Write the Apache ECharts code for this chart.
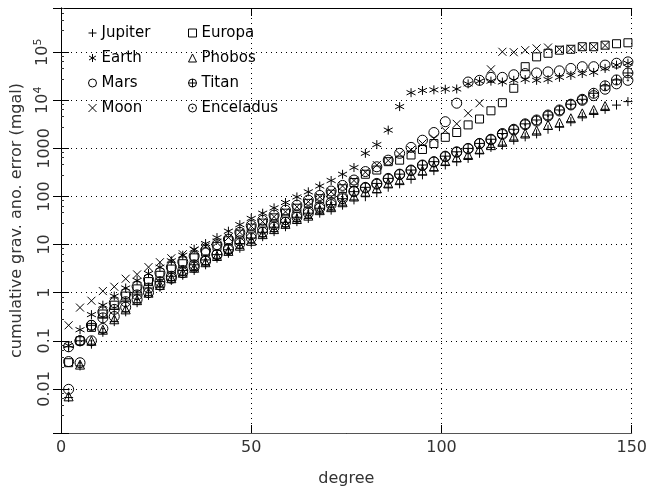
<!DOCTYPE html>
<html>
<head>
<meta charset="utf-8">
<script src="https://cdn.jsdelivr.net/npm/echarts@6/dist/echarts.min.js"></script>
<style>
  html, body { margin: 0; padding: 0; background: #fff; }
  #chart { width: 650px; height: 493px; }
</style>
</head>
<body>
<div id="chart"></div>
<script>
// degree of each point
const degrees = [2, 5, 8, 11, 14, 17, 20, 23, 26, 29, 32, 35, 38, 41, 44, 47, 50, 53, 56, 59,
  62, 65, 68, 71, 74, 77, 80, 83, 86, 89, 92, 95, 98, 101, 104, 107, 110, 113, 116, 119,
  122, 125, 128, 131, 134, 137, 140, 143, 146, 149]

// cumulative grav. anomaly error (mgal) per body
const jupiter = [0.0066, 0.03, 0.085, 0.15, 0.25, 0.4, 0.62, 0.88, 1.3, 1.8,
  2.3, 2.9, 3.8, 5.2, 6.6, 8.4, 10.7, 14.6, 18.6, 23.5,
  30, 35, 45, 52, 66, 85, 99, 120, 156, 183,
  229, 282, 345, 452, 530, 620, 790, 1050, 1170, 1490,
  1740, 2000, 2500, 2830, 3590, 4560, 5350, 6500, 7950, 9400]
const earth = [0.08, 0.17, 0.35, 0.55, 0.85, 1.25, 1.8, 2.5, 3.4, 4.6,
  6.0, 8.0, 10.5, 14, 19, 26, 35, 45, 58, 75,
  98, 125, 165, 215, 290, 400, 790, 1200, 2400, 7400,
  14400, 16000, 16500, 17000, 17200, 22000, 25000, 25000, 24000, 26000,
  27000, 26000, 27000, 30000, 33000, 36000, 38000, 46000, 54000, 59000]
const mars = [0.037, 0.1, 0.21, 0.4, 0.62, 0.95, 1.35, 1.9, 2.6, 3.4,
  4.4, 5.8, 7.6, 10, 13, 18, 25, 32, 41, 52,
  66, 84, 105, 130, 170, 220, 330, 415, 570, 790,
  1050, 1480, 2140, 3590, 8700, 24000, 26000, 30000, 30000, 34000,
  36000, 37000, 39000, 41000, 46000, 50000, 50000, 54000, 59000, 63000]
const moon = [0.21, 0.49, 0.68, 1.08, 1.33, 1.95, 2.4, 3.4, 4.3, 5.2,
  6.3, 7.5, 9, 11, 14, 18, 24, 30, 38, 48,
  61, 78, 98, 125, 165, 215, 320, 450, 560, 760,
  930, 1260, 1610, 2340, 3240, 5380, 8700, 44000, 102000, 100000,
  110000, 120000, 125000, 115000, 118000, 128000, 130000, 138000, null, null]
const europa = [0.035, 0.1, 0.19, 0.36, 0.55, 0.85, 1.2, 1.7, 2.3, 3.1,
  4.0, 5.3, 7.0, 9.2, 12, 16.5, 22, 28, 36, 45,
  57, 72, 90, 112, 145, 195, 290, 355, 530, 570,
  730, 950, 1260, 1700, 2140, 3080, 4080, 6050, 8900, 17800,
  50000, 80000, 95000, 110000, 115000, 130000, 130000, 140000, 150000, 157000]
const phobos = [0.007, 0.032, 0.1, 0.17, 0.28, 0.45, 0.7, 1.0, 1.45, 2.0,
  2.6, 3.3, 4.3, 5.8, 7.4, 9.5, 12, 16.5, 21, 27,
  34, 40, 52, 60, 76, 100, 126, 148, 187, 219,
  282, 345, 417, 545, 650, 730, 955, 1170, 1370, 1740,
  2040, 2340, 3070, 3420, 4230, 5350, 6300, 7600, null, null]
const titan = [0.075, 0.1, 0.21, 0.3, 0.45, 0.65, 0.9, 1.25, 1.7, 2.2,
  2.9, 3.8, 4.8, 6.2, 7.8, 10.5, 13.7, 18, 23, 29,
  37, 45, 57, 68, 90, 126, 155, 187, 238, 292,
  355, 452, 530, 690, 850, 1000, 1270, 1550, 2040, 2500,
  3240, 3900, 4950, 6300, 8300, 10500, 14000, 20000, 26500, 37000]
const enceladus = [0.0098, 0.035, 0.1, 0.18, 0.32, 0.5, 0.72, 1.0, 1.45, 2.0,
  2.6, 3.4, 4.5, 6.2, 8.3, 12, 16, 21, 26, 33,
  41, 50, 62, 75, 98, 130, 150, 180, 230, 285,
  345, 440, 520, 670, 830, 980, 1250, 1500, 1950, 2400,
  3100, 3700, 4700, 6000, 8000, 10000, 12500, 17000, 22000, 26000]

// tick labels
const xTicks = [0, 50, 100, 150]
const yTickValues = [0.01, 0.1, 1, 10, 100, 1000, 10000, 100000]
const yTickLabels = ['0.01', '0.1', '1', '10', '100', '1000', '10{sup|4}', '10{sup|5}']

// marker shapes
const SYM = {
  plus: 'path://M5 0L5 10M0 5L10 5',
  star: 'path://M5 0L5 10M0.67 2.5L9.33 7.5M9.33 2.5L0.67 7.5',
  cross: 'path://M0 0L10 10M10 0L0 10',
  oplus: 'path://M0 5A5 5 0 1 0 10 5A5 5 0 1 0 0 5ZM5 0L5 10M0 5L10 5',
  odot: 'path://M0 5A5 5 0 1 0 10 5A5 5 0 1 0 0 5ZM5.7 5A0.7 0.7 0 1 0 4.3 5A0.7 0.7 0 1 0 5.7 5Z'
}

const FONT = 'DejaVu Sans'

const makeSeries = (name, values, symbol, size) => {
  let pts = []
  for (let i = 0; i < degrees.length; i++) {
    if (values[i] != null) pts.push([degrees[i], values[i]])
  }
  return {
    name: name,
    type: 'scatter',
    data: pts,
    symbol: symbol,
    symbolSize: size,
    itemStyle: { color: 'rgba(0,0,0,0)', borderColor: '#000', borderWidth: 1, opacity: 1 },
    emphasis: { disabled: true },
    silent: true
  }
}

const yLabel = (v) => {
  for (let i = 0; i < yTickValues.length; i++) {
    if (Math.abs(Math.log10(v) - Math.log10(yTickValues[i])) < 1e-6) return yTickLabels[i]
  }
  return ''
}

const legendBase = {
  orient: 'vertical',
  top: 25,
  padding: 0,
  itemWidth: 8,
  itemHeight: 8,
  itemGap: 9,
  selectedMode: false,
  itemStyle: { borderWidth: 1 },
  textStyle: { fontFamily: FONT, fontSize: 15, color: '#000', lineHeight: 16 }
}

let chart = echarts.init(document.getElementById('chart'))

let option = {
  animation: false,
  grid: { left: 61, right: 17, top: 8, bottom: 60, show: false },
  legend: [
    Object.assign({}, legendBase, { left: 88, data: ['Jupiter', 'Earth', 'Mars', 'Moon'] }),
    Object.assign({}, legendBase, { left: 188, data: ['Europa', 'Phobos', 'Titan', 'Enceladus'] })
  ],
  xAxis: [
    {
      type: 'value',
      min: xTicks[0],
      max: xTicks[xTicks.length - 1],
      interval: 50,
      name: 'degree',
      nameLocation: 'middle',
      nameGap: 38,
      nameTextStyle: { fontFamily: FONT, fontSize: 16, color: '#333' },
      axisLine: { show: true, lineStyle: { color: '#555', width: 1 } },
      axisTick: { show: true, inside: true, length: 8, lineStyle: { color: '#000' } },
      axisLabel: { fontFamily: FONT, fontSize: 16, color: '#333', margin: 7 },
      splitLine: { show: true, lineStyle: { color: '#000', type: [1, 4], width: 1 } }
    },
    {
      type: 'value',
      position: 'top',
      min: xTicks[0],
      max: xTicks[xTicks.length - 1],
      interval: 50,
      axisLine: { show: true, lineStyle: { color: '#000', width: 1 } },
      axisTick: { show: true, inside: true, length: 8, lineStyle: { color: '#000' } },
      axisLabel: { show: false },
      splitLine: { show: false }
    }
  ],
  yAxis: [
    {
      type: 'log',
      min: 0.00121,
      max: 830000,
      name: 'cumulative grav. ano. error (mgal)',
      nameLocation: 'middle',
      nameGap: 36,
      nameTextStyle: { fontFamily: FONT, fontSize: 16, color: '#333' },
      axisLine: { show: true, lineStyle: { color: '#333', width: 1 } },
      axisTick: { show: true, inside: true, length: 8, lineStyle: { color: '#000' } },
      minorTick: { show: true, splitNumber: 5, length: 3, lineStyle: { color: '#333' } },
      axisLabel: {
        rotate: 90,
        margin: 8,
        fontFamily: FONT,
        fontSize: 16,
        color: '#333',
        formatter: yLabel,
        rich: { sup: { fontFamily: FONT, fontSize: 11, color: '#333', padding: [0, 0, 9, 0] } }
      },
      splitLine: { show: true, lineStyle: { color: '#000', type: [1, 4], width: 1 } }
    },
    {
      type: 'log',
      position: 'right',
      min: 0.00121,
      max: 830000,
      axisLine: { show: true, lineStyle: { color: '#000', width: 1 } },
      axisTick: { show: true, inside: true, length: 8, lineStyle: { color: '#000' } },
      axisLabel: { show: false },
      splitLine: { show: false }
    }
  ],
  series: [
    makeSeries('Jupiter', jupiter, SYM.plus, 9),
    makeSeries('Earth', earth, SYM.star, 9),
    makeSeries('Mars', mars, 'circle', 10),
    makeSeries('Moon', moon, SYM.cross, 8),
    makeSeries('Europa', europa, 'rect', 8),
    makeSeries('Phobos', phobos, 'triangle', 9),
    makeSeries('Titan', titan, SYM.oplus, 10),
    makeSeries('Enceladus', enceladus, SYM.odot, 10)
  ]
}

chart.setOption(option)
</script>
</body>
</html>
